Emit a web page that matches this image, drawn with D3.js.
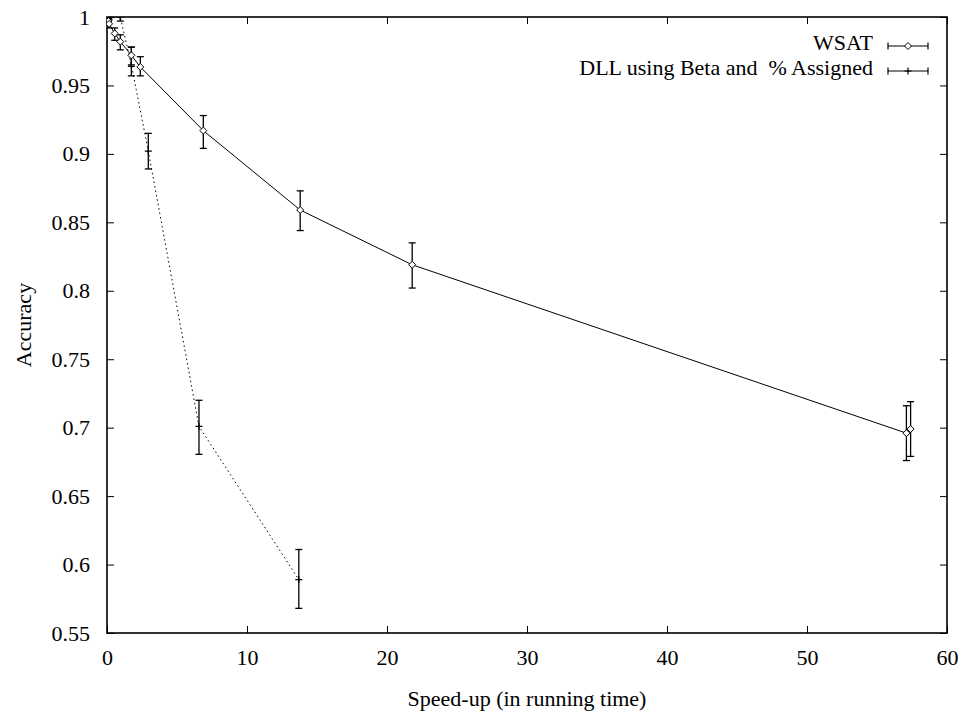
<!DOCTYPE html>
<html><head><meta charset="utf-8">
<script src="https://cdn.jsdelivr.net/npm/d3@7"></script>
<style>
body{margin:0;background:#fff;}
text{font-family:"Liberation Serif","Times New Roman",serif;font-size:22px;fill:#000;}
</style></head>
<body><svg id="c" width="964" height="719"></svg>
<script>
// WSAT series: speed-up, accuracy, error low, error high
const wsatX  = [0.1, 0.15, 0.55, 0.95, 1.74, 2.38, 6.88, 13.8, 21.8, 57.1, 57.4];
const wsatY  = [0.997, 0.995, 0.988, 0.982, 0.972, 0.9635, 0.917, 0.859, 0.819, 0.696, 0.699];
const wsatLo = [0.995, 0.992, 0.983, 0.976, 0.964, 0.957, 0.904, 0.844, 0.802, 0.676, 0.679];
const wsatHi = [0.999, 0.998, 0.992, 0.987, 0.978, 0.971, 0.928, 0.873, 0.835, 0.716, 0.719];
// DLL using Beta and % Assigned
const dllX  = [0.1, 0.95, 1.74, 2.95, 6.57, 13.7];
const dllY  = [0.999, 1.0, 0.965, 0.902, 0.701, 0.589];
const dllLo = [0.997, 0.997, 0.957, 0.889, 0.6805, 0.568];
const dllHi = [1.001, 1.004, 0.978, 0.915, 0.720, 0.611];

const xTicks = [0, 10, 20, 30, 40, 50, 60];
const yTicks = [0.55, 0.6, 0.65, 0.7, 0.75, 0.8, 0.85, 0.9, 0.95, 1];
const seriesNames = ["WSAT", "DLL using Beta and  % Assigned"];
const xTitle = "Speed-up (in running time)";
const yTitle = "Accuracy";

const FONT = '"Liberation Serif","Times New Roman",serif';
const L = 107, R = 947, T = 17, B = 633;
const svg = d3.select("#c");
const x = d3.scaleLinear().domain([0, 60]).range([L, R]);
const y = d3.scaleLinear().domain([0.55, 1]).range([B, T]);

svg.append("defs").append("clipPath").attr("id","clip")
  .append("rect").attr("x",L).attr("y",T).attr("width",R-L).attr("height",B-T);

// axes with inward ticks (mirrored)
const tl = 7;
const gB = svg.append("g").attr("transform",`translate(0,${B})`)
  .call(d3.axisBottom(x).tickValues(xTicks).tickSize(-tl).tickPadding(tl+10).tickFormat(d3.format("d")));
const gT = svg.append("g").attr("transform",`translate(0,${T})`)
  .call(d3.axisTop(x).tickValues(xTicks).tickSize(-tl).tickFormat(""));
const gL = svg.append("g").attr("transform",`translate(${L},0)`)
  .call(d3.axisLeft(y).tickValues(yTicks).tickSize(-tl).tickPadding(tl+10).tickFormat(d=>String(+d.toFixed(2))));
const gR = svg.append("g").attr("transform",`translate(${R},0)`)
  .call(d3.axisRight(y).tickValues(yTicks).tickSize(-tl).tickFormat(""));
[gB,gT,gL,gR].forEach(g=>{
  g.attr("font-family", null).attr("font-size", null);
  g.select(".domain").remove();
  g.selectAll(".tick line").attr("stroke","#000").attr("stroke-width",1);
  g.selectAll("text").style("font-size","22px").style("font-family",FONT).attr("fill","#000");
});
gB.selectAll(".tick text").attr("dy","0.71em").attr("y",16);
gL.selectAll(".tick text").attr("dy","0.32em");

svg.append("rect").attr("x",L).attr("y",T).attr("width",R-L).attr("height",B-T)
  .attr("fill","none").attr("stroke","#000").attr("stroke-width",1.6);

const plot = svg.append("g").attr("clip-path","url(#clip)");

function drawSeries(xs, ys, lo, hi, dash, marker){
  const pts = xs.map((d,i)=>({x:d,y:ys[i],lo:lo[i],hi:hi[i]}));
  plot.append("path").datum(pts)
    .attr("d", d3.line().x(d=>x(d.x)).y(d=>y(d.y)))
    .attr("fill","none").attr("stroke","#000").attr("stroke-width",1)
    .attr("stroke-dasharray", dash);
  const cw = 3.5;
  const eb = plot.append("g").attr("stroke","#000").attr("stroke-width",1.3);
  pts.forEach(d=>{
    eb.append("line").attr("x1",x(d.x)).attr("x2",x(d.x)).attr("y1",y(d.lo)).attr("y2",y(d.hi));
    eb.append("line").attr("x1",x(d.x)-cw).attr("x2",x(d.x)+cw).attr("y1",y(d.lo)).attr("y2",y(d.lo));
    eb.append("line").attr("x1",x(d.x)-cw).attr("x2",x(d.x)+cw).attr("y1",y(d.hi)).attr("y2",y(d.hi));
    marker(plot, x(d.x), y(d.y));
  });
}
function diamond(g, cx, cy){
  const s = 3.5;
  g.append("path").attr("d",`M${cx},${cy-s}L${cx+s},${cy}L${cx},${cy+s}L${cx-s},${cy}Z`)
    .attr("fill","#fff").attr("stroke","#000").attr("stroke-width",1);
}
function plus(g, cx, cy){
  const s = 3.5;
  g.append("path").attr("d",`M${cx-s},${cy}H${cx+s}M${cx},${cy-s}V${cy+s}`)
    .attr("stroke","#000").attr("stroke-width",1.2);
}

drawSeries(dllX, dllY, dllLo, dllHi, "1.5,3", plus);
drawSeries(wsatX, wsatY, wsatLo, wsatHi, null, diamond);

// legend
const legend = [
  {name: seriesNames[0], marker: diamond, ty: 50, ly: 46},
  {name: seriesNames[1], marker: plus, ty: 75, ly: 71}
];
legend.forEach(l=>{
  svg.append("text").attr("x",873).attr("y",l.ty).attr("text-anchor","end")
    .style("white-space","pre").text(l.name);
  const g = svg.append("g").attr("stroke","#000").attr("stroke-width",1.2);
  g.append("line").attr("x1",888).attr("x2",928).attr("y1",l.ly).attr("y2",l.ly);
  g.append("line").attr("x1",888).attr("x2",888).attr("y1",l.ly-3.5).attr("y2",l.ly+3.5);
  g.append("line").attr("x1",928).attr("x2",928).attr("y1",l.ly-3.5).attr("y2",l.ly+3.5);
  l.marker(svg, 908, l.ly);
});

// titles
svg.append("text").attr("x",(L+R)/2).attr("y",706).attr("text-anchor","middle").text(xTitle);
svg.append("text").attr("transform",`translate(31,${(T+B)/2}) rotate(-90)`)
  .attr("text-anchor","middle").text(yTitle);
</script></body></html>
